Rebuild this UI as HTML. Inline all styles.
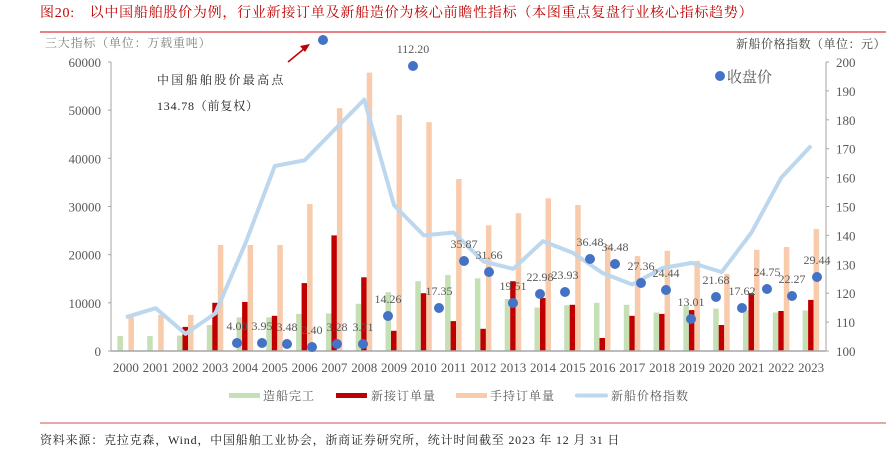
<!DOCTYPE html>
<html><head><meta charset="utf-8"><style>
html,body{margin:0;padding:0;background:#fff;width:896px;height:451px;overflow:hidden}
svg text{font-family:"Liberation Serif","Noto Serif CJK SC",serif}
</style></head><body>
<svg id="c" width="896" height="451" xmlns="http://www.w3.org/2000/svg">
<text x="40" y="17" font-size="14" fill="#c00000" letter-spacing="0.75">图20:　以中国船舶股价为例，行业新接订单及新船造价为核心前瞻性指标（本图重点复盘行业核心指标趋势）</text>
<line x1="40" y1="32" x2="886" y2="32" stroke="#d9383a" stroke-width="1.2"/>
<text x="45" y="47" font-size="12" fill="#7f7f7f" letter-spacing="0.8">三大指标（单位：万载重吨）</text>
<text x="886" y="48" font-size="12" fill="#404040" text-anchor="end" letter-spacing="0.5">新船价格指数（单位：元）</text>
<text x="157" y="84" font-size="12" fill="#262626" letter-spacing="2.3">中国船舶股价最高点</text>
<text x="157" y="110" font-size="12" fill="#262626" letter-spacing="0.8">134.78（前复权）</text>
<line x1="288" y1="62" x2="305" y2="48" stroke="#c00000" stroke-width="1.5"/>
<polygon points="310,44 300,46 305,52" fill="#c00000"/>
<circle cx="720" cy="76" r="5" fill="#4472c4"/>
<text x="727" y="82" font-size="15" fill="#595959">收盘价</text>
<line x1="40" y1="423" x2="886" y2="423" stroke="#e08a8a" stroke-width="1.5"/>
<text x="40" y="444" font-size="12" fill="#262626" letter-spacing="0.8">资料来源：克拉克森，Wind，中国船舶工业协会，浙商证券研究所，统计时间截至 2023 年 12 月 31 日</text>
<g id="g"></g>
</svg>
<script>
var g=document.getElementById('g'),h='';
function yL(v){return 351-v*0.004817}
function yR(v){return 351-(v-100)*2.89}
var G=[3100,3100,3200,5400,7000,7000,7700,7800,9800,12200,14500,15800,15100,10800,9000,9500,10000,9600,8000,9300,8800,8500,8000,8400];
var R=[0,0,5000,10000,10200,7300,14100,24000,15300,4200,12000,6200,4600,14500,11000,9600,2700,7300,7700,8500,5400,12000,8300,10600];
var O=[7000,7500,7500,22000,22000,22000,30500,50400,57800,49000,47500,35700,26100,28600,31700,30300,22000,19700,20800,18700,16000,21000,21600,25300];
var L=[111.7,114.8,105.9,113,137,164,166,176.5,187,150.5,140,141,131,128.4,138,134,127,123,128.7,130.5,127.3,141,160,171];
var pts=[];
for(var i=0;i<24;i++){var c=111+(i+0.5)*29.79;
 function bar(x,v,col){if(v>0)h+='<rect x="'+x.toFixed(1)+'" y="'+yL(v).toFixed(1)+'" width="5.5" height="'+(351-yL(v)).toFixed(1)+'" fill="'+col+'"/>';}
 bar(c-8.5,G[i],'#c5e0b4');bar(c-3,R[i],'#c00000');bar(c+2.5,O[i],'#f8cbad');
 pts.push(c.toFixed(1)+','+yR(L[i]).toFixed(1));
 h+='<text x="'+c.toFixed(1)+'" y="372" font-size="13" fill="#595959" text-anchor="middle">'+(2000+i)+'</text>';
}
h+='<polyline points="'+pts.join(' ')+'" fill="none" stroke="#bdd7ee" stroke-width="4" stroke-linejoin="round"/>';
h+='<line x1="111" y1="62" x2="111" y2="351" stroke="#a6a6a6"/><line x1="826" y1="62" x2="826" y2="351" stroke="#a6a6a6"/><line x1="111" y1="351" x2="826" y2="351" stroke="#a6a6a6" stroke-width="1.5"/>';
for(var k=0;k<=6;k++){var y=yL(k*10000);h+='<line x1="108" y1="'+y+'" x2="111" y2="'+y+'" stroke="#a6a6a6"/><text x="101" y="'+(y+5)+'" font-size="13" fill="#595959" text-anchor="end">'+(k*10000)+'</text>';}
for(var k=0;k<=10;k++){var y=yR(100+k*10);h+='<line x1="826" y1="'+y+'" x2="829" y2="'+y+'" stroke="#a6a6a6"/><text x="836" y="'+(y+5)+'" font-size="13" fill="#595959">'+(100+k*10)+'</text>';}
var D=[[237,343,'4.00'],[262,343,'3.95'],[287,344,'3.48'],[312,347,'2.40'],[337,344,'3.28'],[363,344,'3.71'],[388,316,'14.26'],[413,66,'112.20'],[439,308,'17.35'],[464,261,'35.87'],[489,272,'31.66'],[513,303,'19.51'],[540,294,'22.98'],[565,292,'23.93'],[590,259,'36.48'],[615,264,'34.48'],[641,283,'27.36'],[666,290,'24.44'],[691,319,'13.01'],[716,297,'21.68'],[742,308,'17.62'],[767,289,'24.75'],[792,296,'22.27'],[817,277,'29.44'],[323,40,'']];
D.forEach(function(d){h+='<circle cx="'+d[0]+'" cy="'+d[1]+'" r="5" fill="#4472c4"/>';if(d[2])h+='<text x="'+d[0]+'" y="'+(d[1]-13)+'" font-size="12" fill="#595959" text-anchor="middle">'+d[2]+'</text>';});
h+='<rect x="229" y="393" width="31" height="5" fill="#c5e0b4"/><text x="263" y="400" font-size="12" fill="#595959" letter-spacing="1">造船完工</text>';
h+='<rect x="336" y="393" width="31" height="5" fill="#c00000"/><text x="371" y="400" font-size="12" fill="#595959" letter-spacing="1">新接订单量</text>';
h+='<rect x="456" y="393" width="31" height="5" fill="#f8cbad"/><text x="490" y="400" font-size="12" fill="#595959" letter-spacing="1">手持订单量</text>';
h+='<line x1="577" y1="395.5" x2="606" y2="395.5" stroke="#bdd7ee" stroke-width="4" stroke-linecap="round"/><text x="611" y="400" font-size="12" fill="#595959" letter-spacing="1">新船价格指数</text>';
g.innerHTML=h;
</script>
</body></html>
